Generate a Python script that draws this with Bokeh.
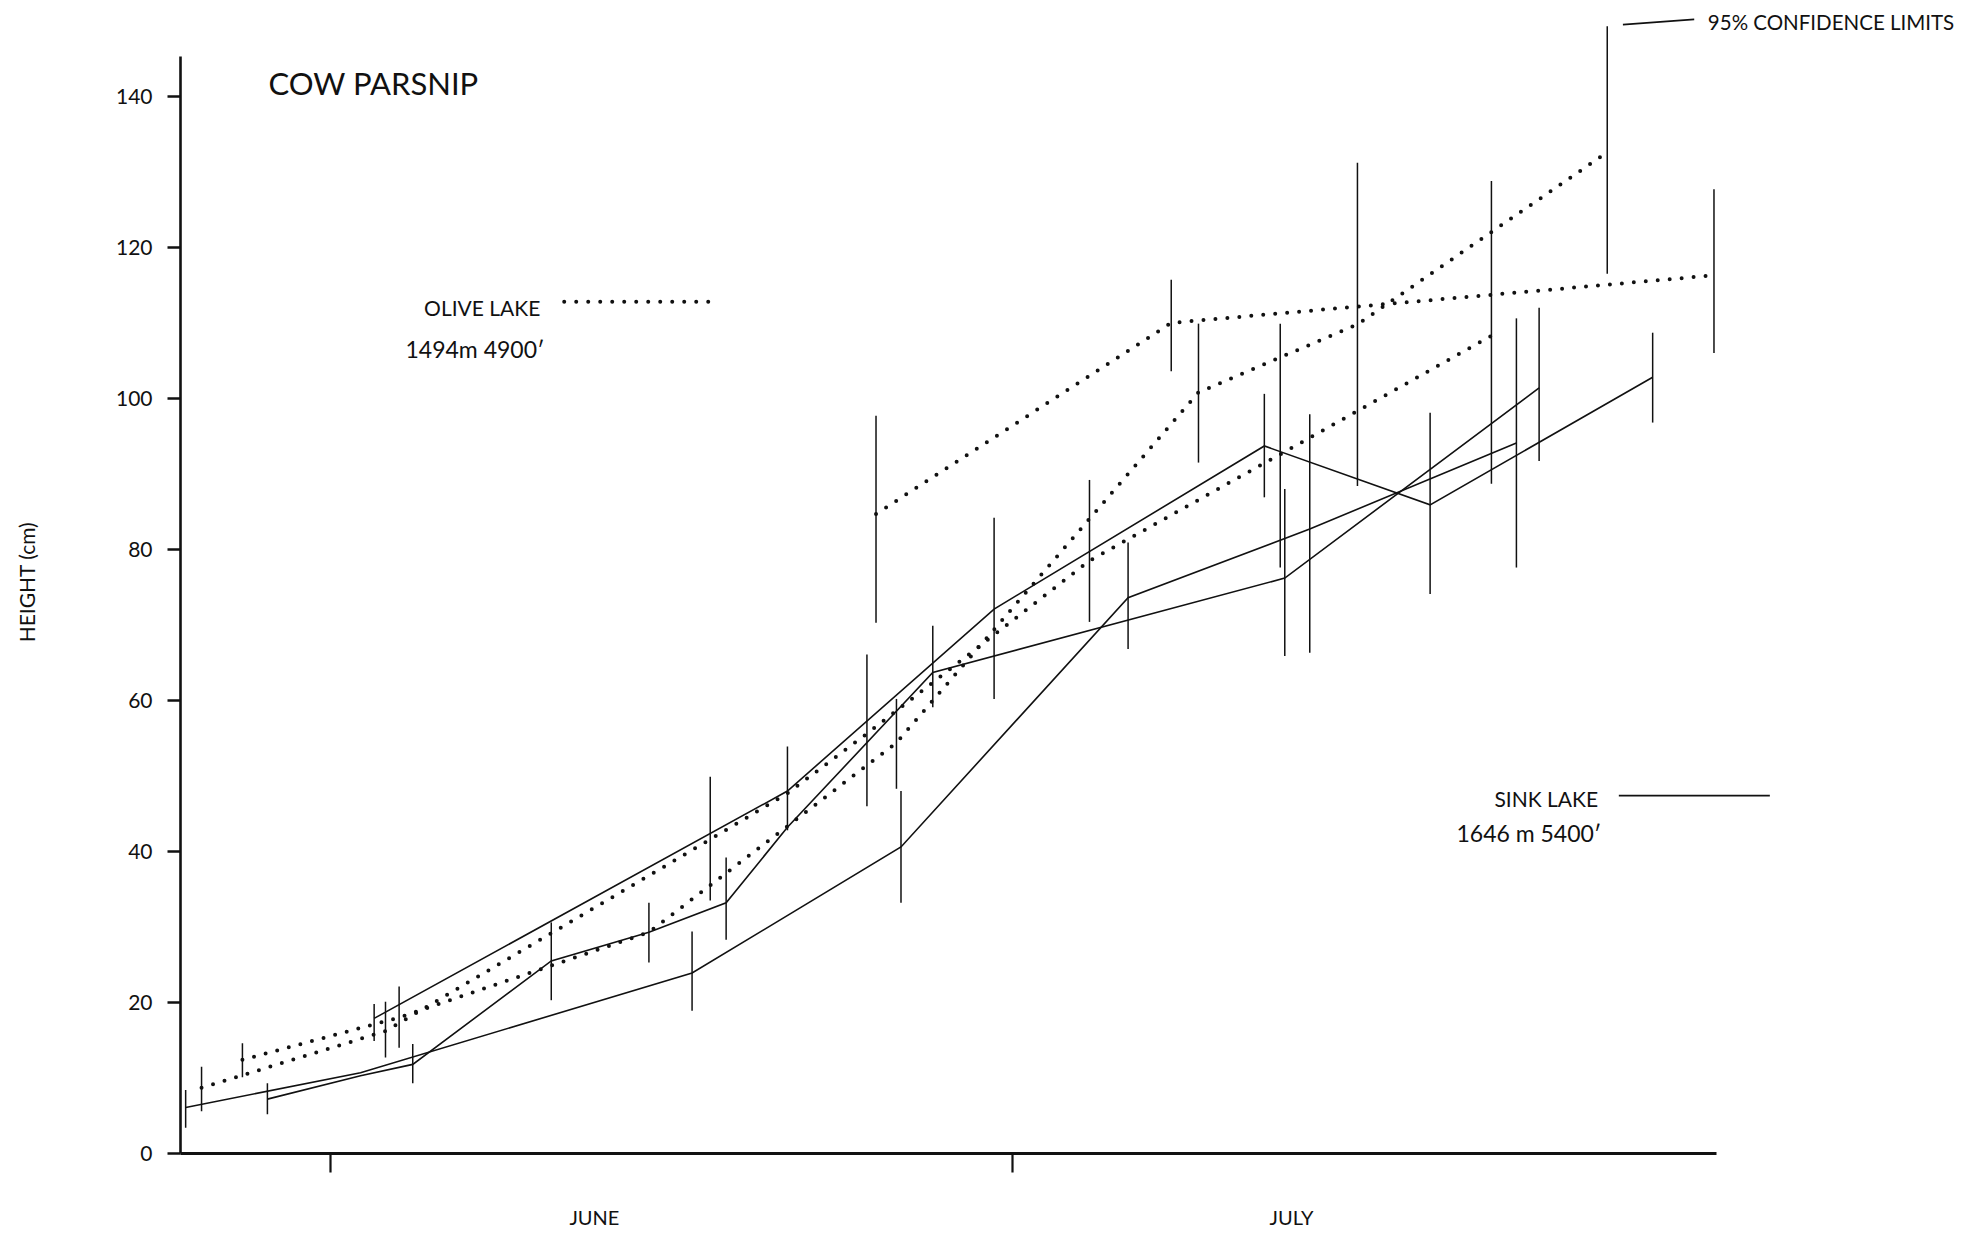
from bokeh.plotting import figure
from bokeh.models import ColumnDataSource, Range1d, LinearAxis, FixedTicker, Label
from bokeh.embed import file_html
from bokeh.resources import INLINE

# x: day of year (June 1 = 152, July 1 = 182); y: plant height (cm)
# ---- SINK LAKE 1646 m (solid lines) ----
sink_a_day    = [145.6, 153.3, 167.9, 177.1, 187.1, 195.1, 204.2]
sink_a_height = [6.1, 10.7, 23.9, 40.6, 73.6, 82.7, 94.1]
sink_a_low    = [3.4, None, 18.9, 33.2, 66.8, 66.3, 77.6]
sink_a_high   = [8.4, None, 29.4, 48.0, 80.9, 97.9, 110.6]

sink_b_day    = [149.2, 153.3, 155.6, 161.7, 166.0, 169.4, 172.1, 178.5, 194.0, 205.2]
sink_b_height = [7.2, 10.3, 11.8, 25.5, 29.3, 33.2, 43.2, 63.7, 76.2, 101.4]
sink_b_low    = [5.2, None, 9.3, 20.3, None, 28.3, None, 59.1, 65.9, 91.7]
sink_b_high   = [9.3, None, 14.5, 30.6, None, 39.2, None, 69.9, 88.0, 112.0]

sink_c_day    = [153.9, 172.1, 181.2, 193.1, 200.4, 210.2]
sink_c_height = [17.9, 48.0, 72.1, 93.7, 85.9, 102.8]
sink_c_low    = [14.9, 42.8, 60.2, 86.9, 74.1, 96.8]
sink_c_high   = [19.8, 53.9, 84.2, 100.6, 98.1, 108.7]

# ---- OLIVE LAKE 1494 m (dotted lines) ----
olive_a_day    = [146.3, 154.4, 168.7, 172.1, 175.6, 185.4, 193.8, 203.1]
olive_a_height = [8.7, 16.2, 41.6, 47.7, 55.6, 78.5, 92.6, 108.3]
olive_a_low    = [5.6, 12.7, 33.5, None, 46.0, 70.4, 77.6, 88.7]
olive_a_high   = [11.5, 20.1, 49.9, None, 66.1, 89.2, 109.9, 128.8]

olive_b_day    = [148.1, 155.0, 166.0, 176.9, 190.2, 197.2, 208.2]
olive_b_height = [12.4, 18.0, 29.3, 54.4, 100.8, 109.8, 132.6]
olive_b_low    = [10.1, 14.0, 25.3, 48.3, 91.5, 88.4, 116.5]
olive_b_high   = [14.6, 22.1, 33.2, 60.2, 109.9, 131.2, 149.3]

olive_c_day    = [176.0, 189.0, 212.9]
olive_c_height = [84.7, 110.0, 116.3]
olive_c_low    = [70.3, 103.6, 106.0]
olive_c_high   = [97.7, 115.7, 127.7]

# axes
y_ticks = [0, 20, 40, 60, 80, 100, 120, 140]
month_start_day = [152, 182]
month_label_day = [163.6, 194.3]
month_names = ["JUNE", "JULY"]

FONT = "Lato"
INK = "#111111"

p = figure(width=1971, height=1233,
           x_range=Range1d(145.373, 224.24), y_range=Range1d(0, 151.37),
           x_axis_type=None, y_axis_type=None,
           output_backend="svg", toolbar_location=None,
           min_border_left=180, min_border_right=0,
           min_border_top=10, min_border_bottom=80)
p.outline_line_color = None
p.background_fill_color = "white"
p.border_fill_color = "white"

# y axis
yaxis = LinearAxis(ticker=FixedTicker(ticks=y_ticks), bounds=(0, 145.3),
                   axis_line_width=2.6, axis_line_color=INK,
                   major_tick_out=13, major_tick_in=0, minor_tick_out=0, minor_tick_in=0,
                   major_tick_line_width=2.6, major_tick_line_color=INK,
                   major_label_text_font=FONT, major_label_text_font_size="21px",
                   major_label_text_color=INK, major_label_standoff=15,
                   axis_label="HEIGHT (cm)", axis_label_text_font=FONT,
                   axis_label_text_font_size="21px", axis_label_text_font_style="normal",
                   axis_label_text_color=INK, axis_label_standoff=74)
p.add_layout(yaxis, "left")

# x axis (month boundaries)
xaxis = LinearAxis(ticker=FixedTicker(ticks=month_start_day), bounds=(145.373, 213.0),
                   axis_line_width=3, axis_line_color=INK,
                   major_tick_out=19, major_tick_in=0, minor_tick_out=0, minor_tick_in=0,
                   major_tick_line_width=2.2, major_tick_line_color=INK,
                   major_label_overrides={d: "" for d in month_start_day},
                   major_label_text_font_size="1px", major_label_standoff=0)
p.add_layout(xaxis, "below")

month_axis = LinearAxis(ticker=FixedTicker(ticks=month_label_day),
                        major_label_overrides={d: n for d, n in zip(month_label_day, month_names)},
                        axis_line_color=None, major_tick_line_color=None,
                        major_tick_out=0, major_tick_in=0, minor_tick_out=0, minor_tick_in=0,
                        major_label_text_font=FONT, major_label_text_font_size="20px",
                        major_label_text_color=INK, major_label_standoff=32)
p.add_layout(month_axis, "below")


def bars(day, low, high):
    d = [(x, lo, hi) for x, lo, hi in zip(day, low, high) if lo is not None]
    return ColumnDataSource(dict(x=[t[0] for t in d], lo=[t[1] for t in d], hi=[t[2] for t in d]))


solid_series = [(sink_a_day, sink_a_height, sink_a_low, sink_a_high),
                (sink_b_day, sink_b_height, sink_b_low, sink_b_high),
                (sink_c_day, sink_c_height, sink_c_low, sink_c_high)]
dotted_series = [(olive_a_day, olive_a_height, olive_a_low, olive_a_high),
                 (olive_b_day, olive_b_height, olive_b_low, olive_b_high),
                 (olive_c_day, olive_c_height, olive_c_low, olive_c_high)]

for day, h, lo, hi in solid_series + dotted_series:
    p.segment(x0="x", y0="lo", x1="x", y1="hi", source=bars(day, lo, hi),
              line_color=INK, line_width=1.5)

for day, h, lo, hi in solid_series:
    p.line(day, h, line_color=INK, line_width=1.6, line_join="miter")

for day, h, lo, hi in dotted_series:
    p.line(day, h, line_color=INK, line_width=4, line_dash="0 12", line_cap="round")

# legend samples
p.line([162.27, 168.68], [112.8, 112.8], line_color=INK, line_width=4, line_dash="0 12", line_cap="round")
p.line([208.71, 215.36], [47.4, 47.4], line_color=INK, line_width=1.6)
p.line([208.89, 212.03], [149.5, 150.2], line_color=INK, line_width=1.6)


def label(x, y, text, size):
    p.add_layout(Label(x=x, y=y, text=text, text_font=FONT, text_font_size=size,
                       text_color=INK, text_baseline="alphabetic", text_align="left"))


label(149.25, 141.8, "COW PARSNIP", "31px")
label(156.1, 112.1, "OLIVE LAKE", "21px")
label(155.28, 106.5, "1494m 4900\u2032", "23px")
label(203.23, 47.0, "SINK LAKE", "21px")
label(201.56, 42.4, "1646 m 5400\u2032", "23px")
label(212.63, 149.9, "95% CONFIDENCE LIMITS", "20.5px")

open("out.html", "w").write(file_html(p, INLINE))
